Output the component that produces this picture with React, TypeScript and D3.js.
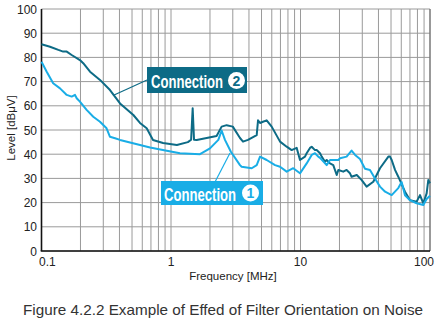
import React from "react";
import * as d3 from "d3";

const yTicks = [0, 10, 20, 30, 40, 50, 60, 70, 80, 90, 100];
const xTickLabels = ["0.1", "1", "10", "100"];
const xTickValues = [0.1, 1, 10, 100];

const conn2Freq = [0.1, 0.1163, 0.1349, 0.147, 0.1566, 0.171, 0.198, 0.21, 0.237, 0.283, 0.338, 0.404, 0.512, 0.576, 0.649, 0.726, 0.868, 1.11, 1.35, 1.43, 1.47, 1.506, 1.58, 2.25, 2.46, 2.69, 3.0, 3.41, 3.6, 3.93, 4.59, 4.7, 4.87, 5.13, 5.48, 5.99, 6.95, 7.82, 8.55, 8.79, 9.35, 9.91, 10.83, 11.16, 11.84, 12.2, 12.94, 13.33, 14.15, 14.58, 15.46, 15.93, 16.9, 17.91, 19.04, 19.59, 21.4, 22.7, 24.1, 24.8, 27.2, 29.7, 32.4, 36.5, 41.1, 47.7, 49.1, 50.6, 53.7, 56.9, 64.1, 70.1, 78.9, 83.7, 88.8, 94.2, 97, 100];
const conn2Level = [85.4, 84.4, 83.1, 82.4, 82.4, 81, 78.9, 77.6, 74.1, 70.7, 66.5, 61, 56.2, 52.9, 50.7, 45.9, 44.6, 43.8, 45, 46, 59, 46, 45.9, 47.5, 51.4, 52, 51.4, 46.7, 45.2, 45.9, 47.9, 54, 52.9, 53.4, 54, 51.4, 45.2, 43.1, 41.7, 42, 42.6, 37.6, 39, 40.4, 42.6, 43.1, 41.7, 41.7, 40.4, 39, 36.9, 37.6, 36.2, 35.5, 31.4, 33.5, 32.8, 33.5, 32.1, 30.7, 31.4, 29.3, 26.6, 28.6, 34.2, 39, 39, 37.6, 33.5, 30.7, 24.5, 21, 20.4, 23.1, 19.7, 23.8, 29.3, 28];

const conn1Freq = [0.1, 0.1097, 0.123, 0.139, 0.1566, 0.171, 0.1814, 0.187, 0.198, 0.223, 0.251, 0.283, 0.318, 0.338, 0.37, 0.404, 0.509, 0.689, 0.927, 1.173, 1.675, 2.0, 2.32, 2.46, 2.61, 2.9, 3.41, 3.51, 4.2, 4.59, 4.87, 5.48, 6.36, 6.95, 7.82, 8.79, 9.91, 11.16, 12.2, 12.94, 13.71, 14.15, 15.93, 16.9, 19.59, 20.2, 22.7, 24.8, 26.4, 28.8, 31.5, 34.4, 37.6, 41.1, 45, 50.6, 56.9, 60.4, 64.1, 70.1, 78.9, 88.8, 94.2, 100];
const conn1Level = [78.2, 74.1, 69.3, 67.2, 64.5, 63.8, 64.5, 63.1, 61.7, 58.3, 55.5, 53.4, 50.7, 47.2, 46.6, 45.9, 44.5, 42.8, 41.4, 40.4, 40, 42.4, 45.9, 49.8, 45.9, 41, 35.5, 34.8, 34.2, 35.5, 39, 37.6, 35.5, 34.8, 32.8, 34.2, 32.1, 36.2, 39.7, 40.4, 39, 38.5, 35.5, 37.6, 37.6, 38.3, 39, 41.5, 39.7, 38, 34, 33.5, 30, 26.6, 24.5, 23.1, 26, 28.5, 23, 21, 19.7, 19, 21.5, 22.8];

const conn2Label = "Connection";
const conn2Num = "2";
const conn1Label = "Connection";
const conn1Num = "1";

const DARK = "#0d6b86";
const LIGHT = "#19ade6";

export default function App() {
  const W = 437, H = 324;
  const x = d3.scaleLog().domain([0.1, 100]).range([41.5, 430]);
  const y = d3.scaleLinear().domain([0, 100]).range([251, 9]);

  const minorX: number[] = [];
  [0.1, 1, 10].forEach((dec) => {
    for (let k = 1; k <= 9; k++) minorX.push(dec * k);
  });
  minorX.push(100);

  const line = d3
    .line<[number, number]>()
    .x((d) => x(d[0]))
    .y((d) => y(d[1]))
    .curve(d3.curveLinear);

  const d2 = line(conn2Freq.map((f, i) => [f, conn2Level[i]] as [number, number])) || "";
  const d1 = line(conn1Freq.map((f, i) => [f, conn1Level[i]] as [number, number])) || "";

  const font = "'Liberation Sans', Arial, Helvetica, sans-serif";

  return (
    <svg width={W} height={H} style={{ position: "absolute", left: 0, top: 0, background: "#fff" }}>
      {/* grid */}
      {yTicks.map((t) => (
        <line key={"h" + t} x1={x(0.1)} x2={x(100)} y1={y(t)} y2={y(t)} stroke="#9a9a9a" strokeWidth={1} />
      ))}
      {minorX.map((f, i) => (
        <line key={"v" + i} x1={x(f)} x2={x(f)} y1={y(0)} y2={y(100)} stroke={f === 100 ? "#777" : "#9a9a9a"} strokeWidth={f === 100 ? 1.5 : 1} />
      ))}
      {/* axes */}
      <line x1={x(0.1)} x2={x(0.1)} y1={y(0)} y2={y(100)} stroke="#111" strokeWidth={1.6} />
      <line x1={x(0.1) - 0.8} x2={x(100)} y1={y(0)} y2={y(0)} stroke="#111" strokeWidth={1.6} />

      {/* curves */}
      <path d={d2} fill="none" stroke={DARK} strokeWidth={2} strokeLinejoin="round" />
      <path d={d1} fill="none" stroke={LIGHT} strokeWidth={2} strokeLinejoin="round" />

      {/* y tick labels */}
      {yTicks.map((t) => (
        <text key={"yl" + t} x={37} y={y(t) + 4.5} textAnchor="end" fontFamily={font} fontSize={12} fill="#222">
          {t}
        </text>
      ))}
      {/* x tick labels */}
      {xTickValues.map((f, i) => (
        <text
          key={"xl" + i}
          x={i === 0 ? 39 : i === 3 ? 434 : x(f)}
          y={266}
          textAnchor={i === 0 ? "start" : i === 3 ? "end" : "middle"}
          fontFamily={font}
          fontSize={12}
          fill="#222"
        >
          {xTickLabels[i]}
        </text>
      ))}

      <text x={233} y={280} textAnchor="middle" fontFamily={font} fontSize={11.5} fill="#222">
        Frequency [MHz]
      </text>
      <text transform="translate(14.5,128) rotate(-90)" textAnchor="middle" fontFamily={font} fontSize={11.5} fill="#222">
        Level [dBμV]
      </text>

      {/* Connection 2 label */}
      <line x1={147} y1={80} x2={113} y2={95.5} stroke={DARK} strokeWidth={1.2} />
      <rect x={147} y={67} width={100} height={26} fill={DARK} />
      <text transform="translate(151,88) scale(0.69,1)" fontFamily={font} fontWeight="bold" fontSize={19} fill="#fff">
        {conn2Label}
      </text>
      <circle cx={236.5} cy={80.5} r={8.5} fill="#fff" />
      <text x={236.5} y={85.5} textAnchor="middle" fontFamily={font} fontWeight="bold" fontSize={14} fill={DARK}>
        {conn2Num}
      </text>

      {/* Connection 1 label */}
      <line x1={215} y1={182} x2={230} y2={153} stroke={LIGHT} strokeWidth={1.2} />
      <rect x={161} y={181} width={102} height={24} fill={LIGHT} />
      <text transform="translate(164,201) scale(0.69,1)" fontFamily={font} fontWeight="bold" fontSize={19} fill="#fff">
        {conn1Label}
      </text>
      <circle cx={250.5} cy={193} r={8.5} fill="#fff" />
      <text x={250.5} y={198} textAnchor="middle" fontFamily={font} fontWeight="bold" fontSize={14} fill={LIGHT}>
        {conn1Num}
      </text>

      {/* caption */}
      <text x={23} y={315} fontFamily={font} fontSize={14.5} fill="#333" textLength={400} lengthAdjust="spacingAndGlyphs">
        Figure 4.2.2 Example of Effed of Filter Orientation on Noise
      </text>
    </svg>
  );
}
